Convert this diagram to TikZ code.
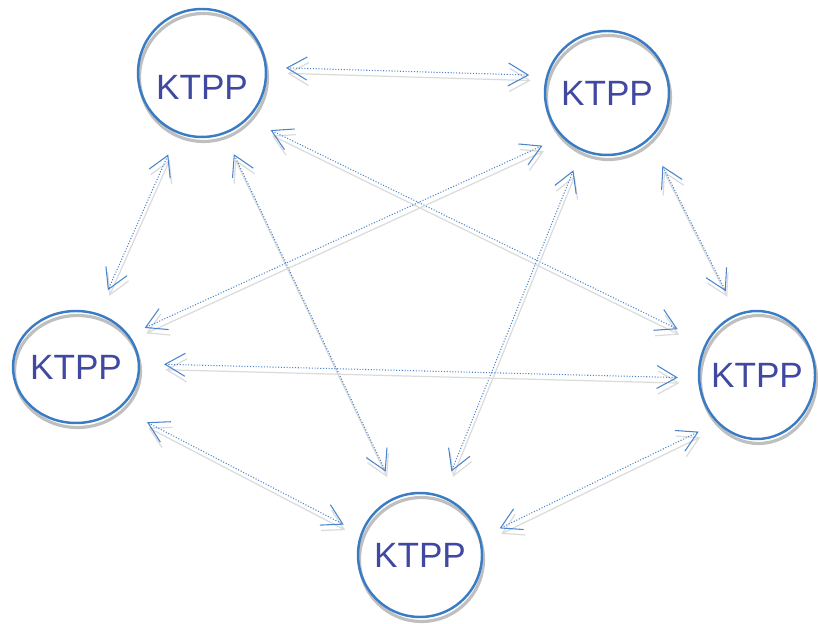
\documentclass[tikz,border=0pt]{standalone}
\usepackage{fontspec}
\setmainfont{Liberation Sans}
\usetikzlibrary{arrows.meta,shapes.geometric}
\definecolor{ringblue}{RGB}{58,124,196}
\definecolor{textblue}{RGB}{64,72,160}
\definecolor{linkblue}{RGB}{74,132,204}
\tikzset{ktpp/.style={ellipse,draw=ringblue,line width=1.4pt,text=textblue,
		inner sep=-6pt,font=\fontsize{20}{24}\selectfont,
		preaction={draw=black!25,line width=1.8pt,transform canvas={shift={(0.3mm,-0.9mm)}}}},
	link/.style={<->,>={Straight Barb[length=4mm,width=4.6mm]},draw=linkblue,
		densely dotted,line width=0.6pt,
		preaction={draw=black!14,line width=0.7pt,transform canvas={shift={(0.3mm,-1.1mm)}}}}}

\begin{document}
\begin{tikzpicture}
	[x=0.02cm,y=-0.02cm]
	\useasboundingbox (0,0) rectangle (818,624);
	\node [ktpp,minimum width=25.6mm,minimum height=25.6mm] (tl) at (202,73) {\smash{\raisebox{-15pt}{KTPP}}};
	\node [ktpp,minimum width=24.8mm,minimum height=24.8mm] (tr) at (607,93) {KTPP};
	\node [ktpp,minimum width=25.2mm,minimum height=22.4mm] (l) at (76,367) {KTPP};
	\node [ktpp,minimum width=24.8mm,minimum height=24.8mm] (b) at (420,555) {KTPP};
	\node [ktpp,minimum width=23.2mm,minimum height=25.6mm] (r) at (757,375) {KTPP};
	\draw [link,shorten <=3.8mm,shorten >=3.4mm] (tl.5) -- (tr.164);
	\draw [link,shorten <=4.6mm,shorten >=5.0mm] (tl.248) -- (l.68);
	\draw [link,shorten <=4.4mm,shorten >=5.4mm] (tl.-70) -- (b.111);
	\draw [link,shorten <=5.0mm,shorten >=6.2mm] (tl.-45) -- (r.148);
	\draw [link,shorten <=4.2mm,shorten >=3.4mm] (tr.224) -- (l.31);
	\draw [link,shorten <=4.2mm,shorten >=5.2mm] (tr.246) -- (b.70);
	\draw [link,shorten <=5.8mm,shorten >=5.0mm] (tr.-48) -- (r.108);
	\draw [link,shorten <=4.8mm,shorten >=4.0mm] (l.3) -- (r.183);
	\draw [link,shorten <=6.0mm,shorten >=3.8mm] (l.-43) -- (b.160);
	\draw [link,shorten <=4.2mm,shorten >=4.0mm] (b.16) -- (r.230);
\end{tikzpicture}
\end{document}
